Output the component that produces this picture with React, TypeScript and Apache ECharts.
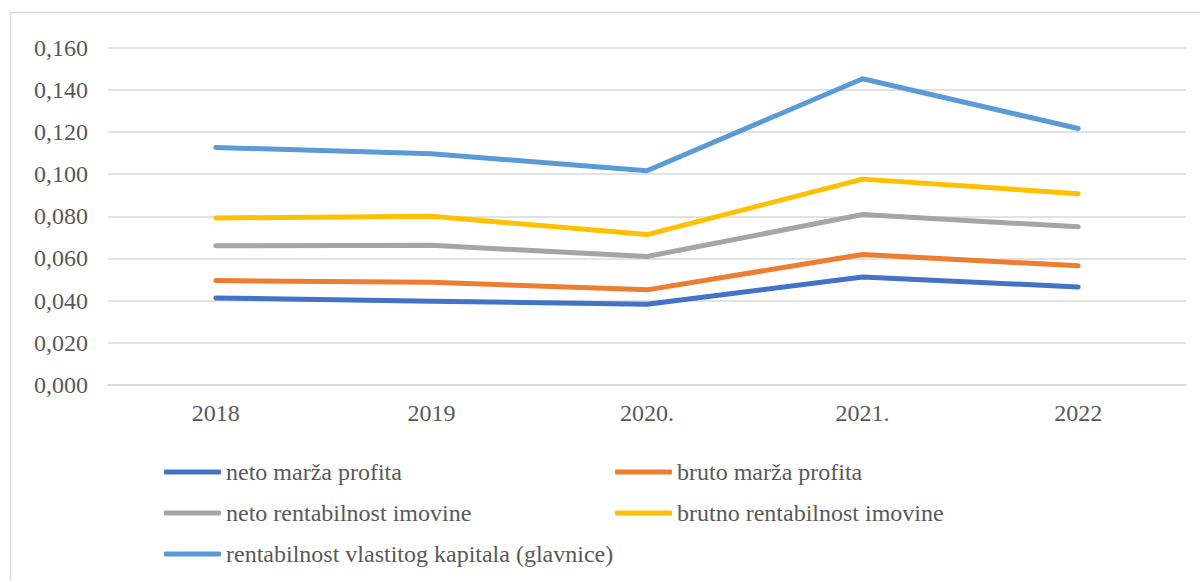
import React, { useEffect, useRef } from "react";
import * as echarts from "echarts";

const categories = ["2018", "2019", "2020.", "2021.", "2022"];
const seriesNames = [
  "neto marža profita",
  "bruto marža profita",
  "neto rentabilnost imovine",
  "brutno rentabilnost imovine",
  "rentabilnost vlastitog kapitala (glavnice)",
];
const netoMarza = [0.0413, 0.0397, 0.0383, 0.0512, 0.0465];
const brutoMarza = [0.0495, 0.0487, 0.0451, 0.0619, 0.0565];
const netoRentImovine = [0.066, 0.0662, 0.0609, 0.0808, 0.075];
const brutnoRentImovine = [0.0792, 0.08, 0.0713, 0.0976, 0.0907];
const rentKapitala = [0.1126, 0.1096, 0.1016, 0.1452, 0.1216];
const colors = ["#4472C4", "#ED7D31", "#A5A5A5", "#FFC000", "#5B9BD5"];

const FONT = "Liberation Serif";
const TEXT = "#595959";
const FS = 24;

export default function App() {
  const ref = useRef<HTMLDivElement>(null);
  useEffect(() => {
    document.body.style.margin = "0";
    const chart = echarts.init(ref.current!, null, { renderer: "svg" });
    const data = [netoMarza, brutoMarza, netoRentImovine, brutnoRentImovine, rentKapitala];
    const legendText = { color: TEXT, fontFamily: FONT, fontSize: FS, lineHeight: 26 };
    chart.setOption({
      animation: false,
      backgroundColor: "#ffffff",
      color: colors,
      textStyle: { fontFamily: FONT },
      graphic: [
        {
          type: "rect",
          shape: { x: 10.5, y: 12.5, width: 1200, height: 600 },
          style: { fill: "none", stroke: "#d9d9d9", lineWidth: 1.5 },
          silent: true,
        },
      ],
      grid: { left: 108, right: 14, top: 47.5, bottom: 196, containLabel: false },
      xAxis: {
        type: "category",
        data: categories,
        boundaryGap: true,
        axisLine: { show: true, lineStyle: { color: "#d9d9d9", width: 1.5 } },
        axisTick: { show: false },
        axisLabel: { color: TEXT, fontFamily: FONT, fontSize: FS, margin: 16 },
      },
      yAxis: {
        type: "value",
        min: 0,
        max: 0.16,
        interval: 0.02,
        axisLine: { show: false },
        axisTick: { show: false },
        splitLine: { lineStyle: { color: "#d9d9d9", width: 1.5 } },
        axisLabel: {
          color: TEXT,
          fontFamily: FONT,
          fontSize: FS,
          margin: 20,
          formatter: (v: number) => v.toFixed(3).replace(".", ","),
        },
      },
      legend: [
        {
          orient: "vertical",
          left: 164,
          top: 459,
          padding: 0,
          itemWidth: 57,
          itemHeight: 5,
          itemGap: 15,
          icon: "roundRect",
          textStyle: legendText,
          data: [seriesNames[0], seriesNames[2], seriesNames[4]],
          selectedMode: false,
        },
        {
          orient: "vertical",
          left: 615,
          top: 459,
          padding: 0,
          itemWidth: 57,
          itemHeight: 5,
          itemGap: 15,
          icon: "roundRect",
          textStyle: legendText,
          data: [seriesNames[1], seriesNames[3]],
          selectedMode: false,
        },
      ],
      series: seriesNames.map((name, i) => ({
        name,
        type: "line",
        data: data[i],
        symbol: "none",
        lineStyle: { width: 5, color: colors[i], cap: "round", join: "round" },
        itemStyle: { color: colors[i] },
      })),
    });
    return () => chart.dispose();
  }, []);
  return <div ref={ref} style={{ width: 1200, height: 581 }} />;
}
